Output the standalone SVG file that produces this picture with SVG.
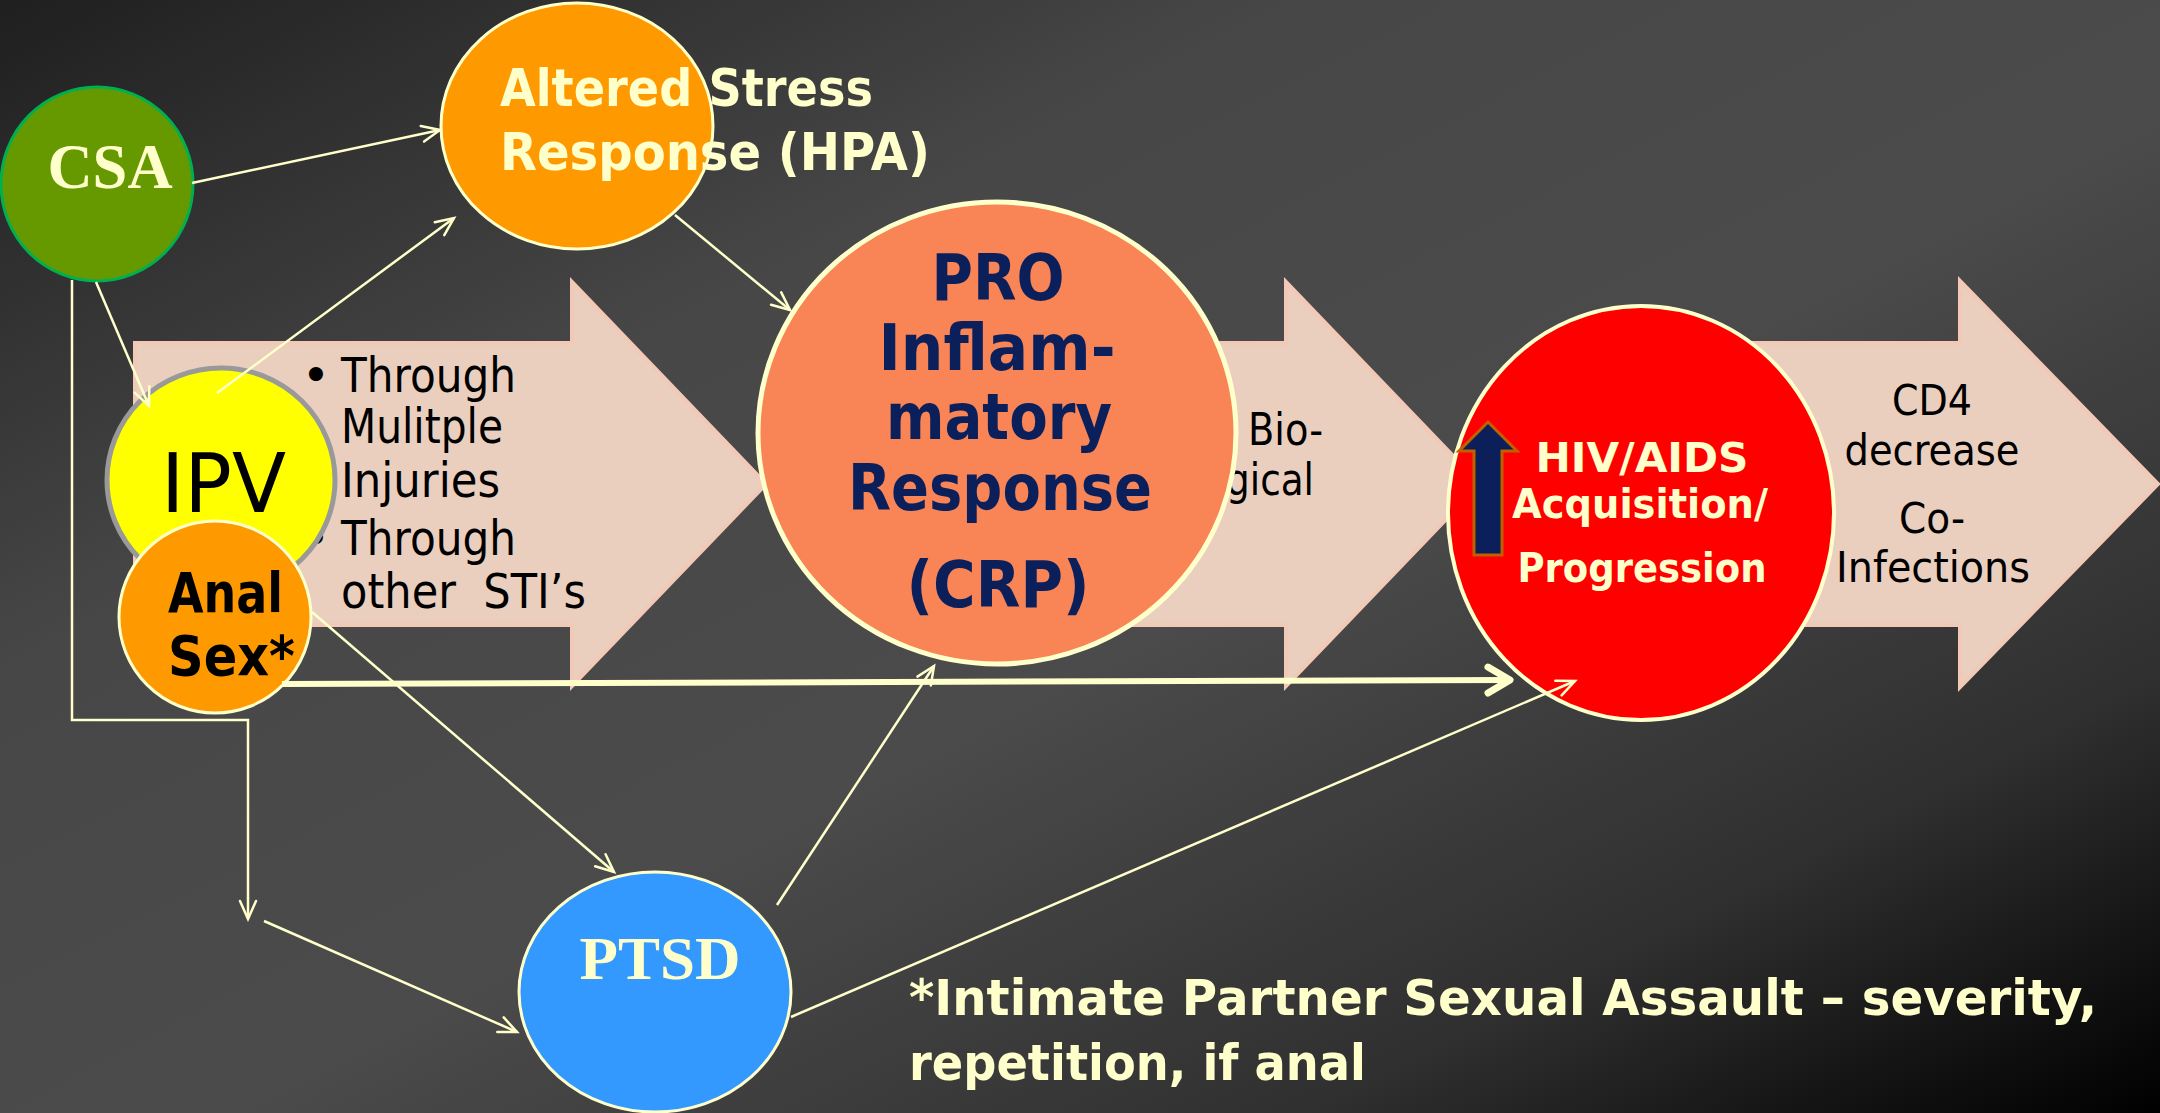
<svg xmlns="http://www.w3.org/2000/svg" width="2160" height="1113" viewBox="0 0 2160 1113">
<style>
.sans{font-family:"DejaVu Sans","Liberation Sans",sans-serif}
.serif{font-family:"Liberation Serif","DejaVu Serif",serif;font-weight:bold}
.b{font-weight:bold}
.cream{fill:#FFFFCC}
.blk{fill:#000}
.navy{fill:#0B1F5B}
.blockarrow{fill:#EACFBF;stroke:#F1C9B6;stroke-width:4}
.conn{fill:none;stroke:#FFFFCC;stroke-width:2.5}
.conn.thick{stroke-width:6}
</style>
<defs>
<linearGradient id="bg" x1="0" y1="0" x2="1" y2="1">
<stop offset="0" stop-color="#1f1f1f"/>
<stop offset="0.3" stop-color="#474747"/>
<stop offset="0.55" stop-color="#4b4b4b"/>
<stop offset="0.8" stop-color="#303030"/>
<stop offset="1" stop-color="#000"/>
</linearGradient>
<marker id="ah" viewBox="-3 -3 24 22" refX="18" refY="8" markerWidth="24" markerHeight="22" orient="auto" markerUnits="userSpaceOnUse">
<path d="M0,0 L18,8 L0,16" fill="none" stroke="#FFFFCC" stroke-width="2.5" stroke-linecap="round"/>
</marker>
<marker id="ahT" viewBox="-5 -5 36 36" refX="24" refY="13" markerWidth="36" markerHeight="36" orient="auto" markerUnits="userSpaceOnUse">
<path d="M2,0 L24,13 L2,26" fill="none" stroke="#FFFFCC" stroke-width="7" stroke-linecap="round" stroke-linejoin="round"/>
</marker>
</defs>
<rect x="0" y="0" width="2160" height="1113" fill="url(#bg)"/>

<g id="arrow-injuries">
<polygon class="blockarrow" points="135,343 572,343 572,282 766,484 572,686 572,625 135,625"/>
<g class="sans blk" font-size="48">
<text x="316" y="392" text-anchor="middle">•</text>
<text x="341" y="392" textLength="175" lengthAdjust="spacingAndGlyphs">Through</text>
<text x="341" y="443" textLength="162" lengthAdjust="spacingAndGlyphs">Mulitple</text>
<text x="341" y="497" textLength="159" lengthAdjust="spacingAndGlyphs">Injuries</text>
<text x="316" y="555" text-anchor="middle">•</text>
<text x="341" y="555" textLength="175" lengthAdjust="spacingAndGlyphs">Through</text>
<text x="341" y="608" textLength="245" lengthAdjust="spacingAndGlyphs" xml:space="preserve">other  STI’s</text>
</g>
</g>

<g id="arrow-biological">
<polygon class="blockarrow" points="1100,343 1286,343 1286,282 1480,484 1286,686 1286,625 1100,625"/>
<g class="sans blk" font-size="44">
<text x="1248" y="445" textLength="75" lengthAdjust="spacingAndGlyphs">Bio-</text>
<text x="1226" y="495" textLength="88" lengthAdjust="spacingAndGlyphs">gical</text>
</g>
</g>

<g id="arrow-outcomes">
<polygon class="blockarrow" points="1700,343 1960,343 1960,281 2158,484 1960,687 1960,625 1700,625"/>
<g class="sans blk" font-size="42" text-anchor="middle">
<text x="1932" y="415" textLength="80" lengthAdjust="spacingAndGlyphs">CD4</text>
<text x="1932" y="465" textLength="175" lengthAdjust="spacingAndGlyphs">decrease</text>
<text x="1932" y="533" textLength="66" lengthAdjust="spacingAndGlyphs">Co-</text>
<text x="1933" y="582" textLength="194" lengthAdjust="spacingAndGlyphs">Infections</text>
</g>
</g>

<g id="node-csa">
<ellipse cx="97" cy="184" rx="96" ry="97" fill="#669900" stroke="#00B050" stroke-width="3"/>
<text class="serif cream" x="110" y="188" font-size="64" text-anchor="middle" textLength="125" lengthAdjust="spacingAndGlyphs">CSA</text>
</g>

<g id="node-hpa">
<ellipse cx="577" cy="126" rx="136" ry="123" fill="#FF9900" stroke="#FFFFCC" stroke-width="3"/>
<g class="sans b cream" font-size="52">
<text x="500" y="106" textLength="373" lengthAdjust="spacingAndGlyphs">Altered Stress</text>
<text x="500" y="170" textLength="430" lengthAdjust="spacingAndGlyphs">Response (HPA)</text>
</g>
</g>

<g id="node-ipv">
<ellipse cx="221" cy="480" rx="114" ry="112" fill="#FFFF00" stroke="#999999" stroke-width="5"/>
<text class="sans blk" x="161" y="512" font-size="82" textLength="125" lengthAdjust="spacingAndGlyphs">IPV</text>
</g>

<g id="node-anal">
<ellipse cx="215" cy="617" rx="96" ry="96" fill="#FF9900" stroke="#FFFFCC" stroke-width="3"/>
<g class="sans b blk" font-size="55">
<text x="168" y="612" textLength="115" lengthAdjust="spacingAndGlyphs">Anal</text>
<text x="168" y="675" textLength="127" lengthAdjust="spacingAndGlyphs">Sex*</text>
</g>
</g>

<g id="node-crp">
<ellipse cx="997" cy="433" rx="239" ry="231" fill="#F98455" stroke="#FFFFCC" stroke-width="5"/>
<g class="sans b navy" font-size="64" text-anchor="middle">
<text x="998" y="300" textLength="133" lengthAdjust="spacingAndGlyphs">PRO</text>
<text x="997" y="370" textLength="237" lengthAdjust="spacingAndGlyphs">Inflam-</text>
<text x="999" y="439" textLength="226" lengthAdjust="spacingAndGlyphs">matory</text>
<text x="1000" y="510" textLength="304" lengthAdjust="spacingAndGlyphs">Response</text>
<text x="998" y="607" textLength="183" lengthAdjust="spacingAndGlyphs">(CRP)</text>
</g>
</g>

<g id="node-hiv">
<ellipse cx="1641" cy="513" rx="193" ry="207" fill="#FF0000" stroke="#FFFFCC" stroke-width="4"/>
<polygon points="1488,422 1517,451 1502,451 1502,555 1474,555 1474,451 1459,451" fill="#0B1F5B" stroke="#C06000" stroke-width="3"/>
<g class="sans b cream" font-size="41" text-anchor="middle">
<text x="1642" y="472" textLength="213" lengthAdjust="spacingAndGlyphs">HIV/AIDS</text>
<text x="1640" y="518" textLength="256" lengthAdjust="spacingAndGlyphs">Acquisition/</text>
<text x="1642" y="582" textLength="249" lengthAdjust="spacingAndGlyphs">Progression</text>
</g>
</g>

<g id="node-ptsd">
<ellipse cx="655" cy="992" rx="136" ry="120" fill="#3399FF" stroke="#FFFFCC" stroke-width="3"/>
<text class="serif cream" x="660" y="979" font-size="62" text-anchor="middle" textLength="161" lengthAdjust="spacingAndGlyphs">PTSD</text>
</g>

<g id="connectors">
<line class="conn" x1="192" y1="183" x2="440" y2="130" marker-end="url(#ah)"/>
<line class="conn" x1="96" y1="282" x2="149" y2="406" marker-end="url(#ah)"/>
<line class="conn" x1="217" y1="393" x2="454" y2="218" marker-end="url(#ah)"/>
<line class="conn" x1="675" y1="215" x2="790" y2="310" marker-end="url(#ah)"/>
<polyline class="conn" points="72,280 72,720 248,720 248,919" marker-end="url(#ah)"/>
<line class="conn" x1="264" y1="921" x2="517" y2="1032" marker-end="url(#ah)"/>
<line class="conn" x1="312" y1="612" x2="614" y2="872" marker-end="url(#ah)"/>
<line class="conn thick" x1="282" y1="684" x2="1510" y2="680" marker-end="url(#ahT)"/>
<line class="conn" x1="777" y1="905" x2="934" y2="666" marker-end="url(#ah)"/>
<line class="conn" x1="791" y1="1017" x2="1575" y2="681" marker-end="url(#ah)"/>
</g>

<g id="footnote" class="sans b cream" font-size="50">
<text x="909" y="1015" textLength="1188" lengthAdjust="spacingAndGlyphs">*Intimate Partner Sexual Assault – severity,</text>
<text x="909" y="1080" textLength="457" lengthAdjust="spacingAndGlyphs">repetition, if anal</text>
</g>
</svg>
